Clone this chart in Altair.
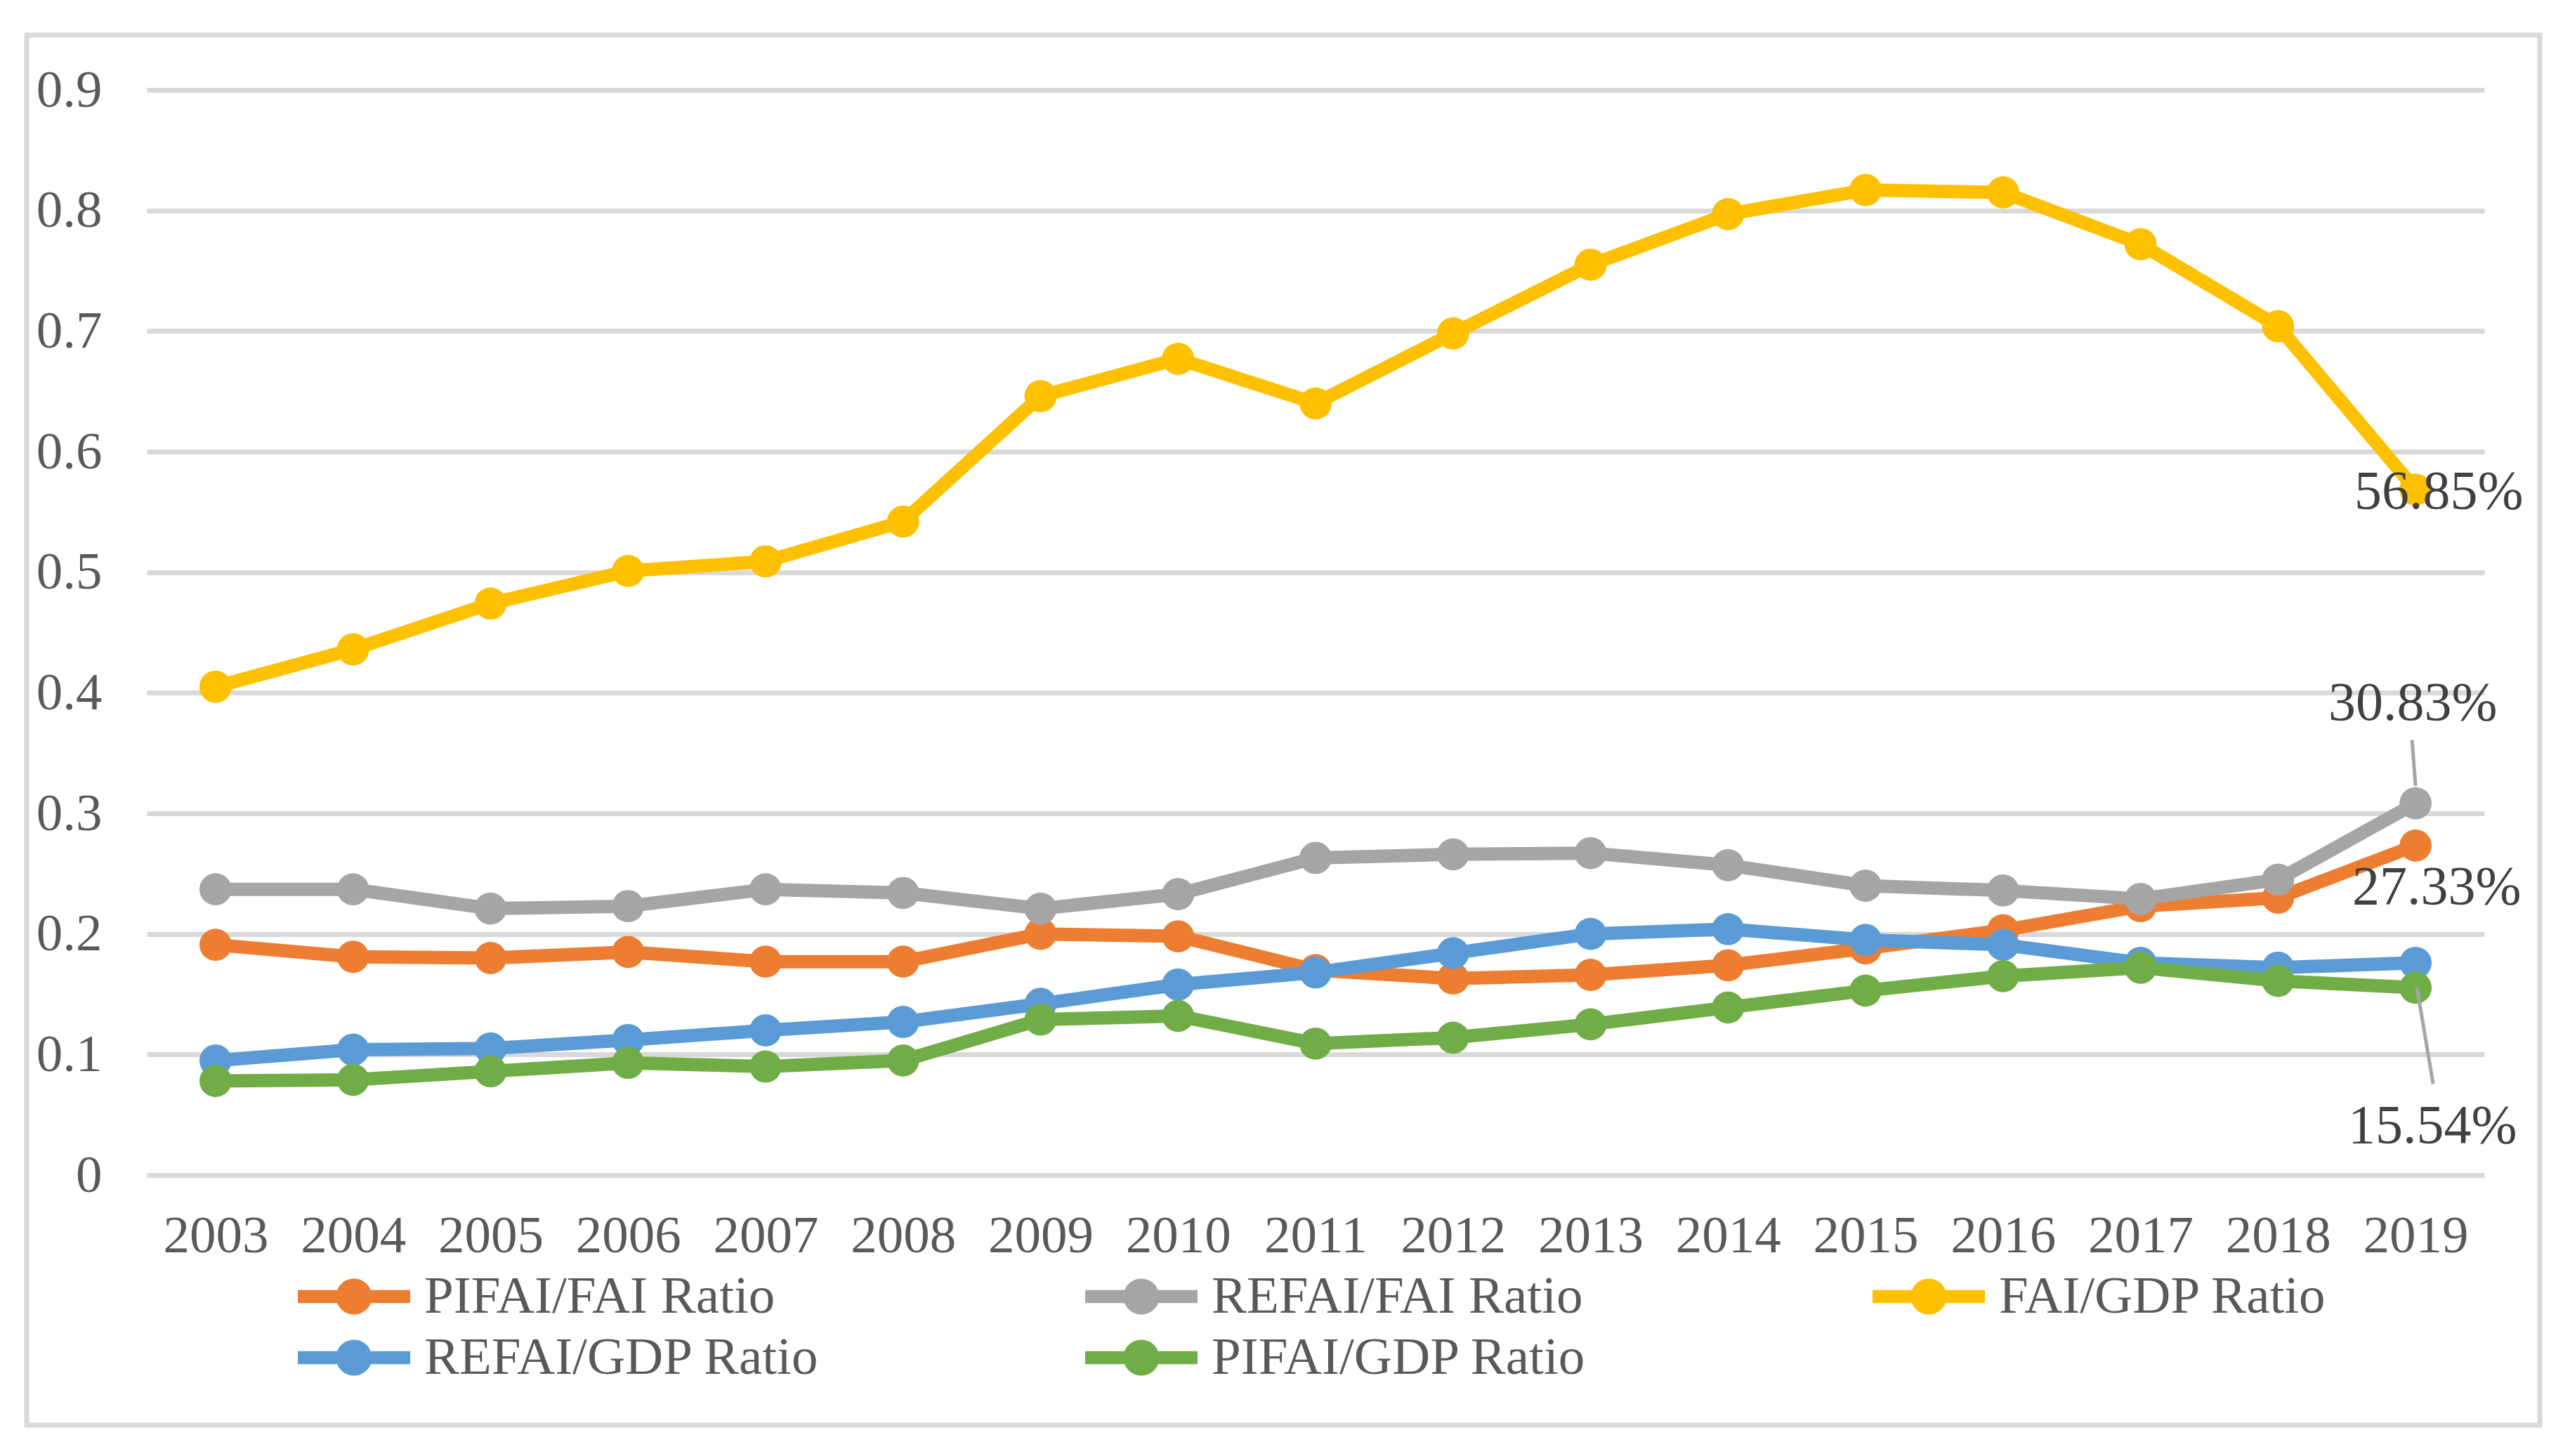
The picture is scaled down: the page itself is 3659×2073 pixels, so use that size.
import altair as alt
import pandas as pd

years = [str(y) for y in range(2003, 2020)]

series_names = ["PIFAI/FAI Ratio", "REFAI/FAI Ratio", "FAI/GDP Ratio",
                "REFAI/GDP Ratio", "PIFAI/GDP Ratio"]
colors = ["#ED7D31", "#A5A5A5", "#FFC000", "#5B9BD5", "#70AD47"]

pifai_fai = [0.191, 0.181, 0.180, 0.185, 0.177, 0.177, 0.200, 0.198, 0.170,
             0.163, 0.166, 0.174, 0.188, 0.203, 0.223, 0.230, 0.2733]
refai_fai = [0.237, 0.237, 0.221, 0.223, 0.237, 0.234, 0.221, 0.233, 0.263,
             0.266, 0.267, 0.257, 0.240, 0.236, 0.229, 0.245, 0.3083]
fai_gdp = [0.405, 0.436, 0.474, 0.501, 0.509, 0.542, 0.646, 0.677, 0.640,
           0.698, 0.755, 0.797, 0.817, 0.815, 0.772, 0.704, 0.5685]
refai_gdp = [0.095, 0.104, 0.105, 0.112, 0.120, 0.127, 0.142, 0.158, 0.168,
             0.184, 0.200, 0.204, 0.195, 0.191, 0.176, 0.172, 0.176]
pifai_gdp = [0.078, 0.079, 0.086, 0.093, 0.090, 0.095, 0.129, 0.132, 0.109,
             0.114, 0.125, 0.139, 0.153, 0.165, 0.172, 0.161, 0.1554]

y_ticks = [0, 0.1, 0.2, 0.3, 0.4, 0.5, 0.6, 0.7, 0.8, 0.9]

# data labels shown at the last point: series, dx, dy
label_series = ["FAI/GDP Ratio", "REFAI/FAI Ratio", "PIFAI/FAI Ratio", "PIFAI/GDP Ratio"]
label_dx = [33, -4, 30, 24]
label_dy = [4, -142, 60, 198]

rows = []
for name, vals in zip(series_names, [pifai_fai, refai_fai, fai_gdp, refai_gdp, pifai_gdp]):
    for yr, v in zip(years, vals):
        rows.append({"year": yr, "series": name, "value": v})
df = pd.DataFrame(rows)

FONT = "Liberation Serif"
W, H = 3328, 1545

x_enc = alt.X("year:O", title=None,
              scale=alt.Scale(type="point", padding=0.5, domain=years),
              axis=alt.Axis(labelFont=FONT, labelFontSize=75, labelColor="#595959",
                            labelAngle=0, labelPadding=86, labelBaseline="middle",
                            ticks=False, domain=False, grid=False))
y_enc = alt.Y("value:Q", title=None,
              scale=alt.Scale(domain=[0, 0.9], nice=False, zero=True),
              axis=alt.Axis(values=y_ticks, format=".1~f", labelFont=FONT,
                            labelFontSize=75, labelColor="#595959", labelPadding=64,
                            ticks=False, domain=False, grid=True,
                            gridColor="#D9D9D9", gridWidth=7))

sym_path = ("M-2,-0.23L2,-0.23L2,0.23L-2,0.23Z "
            "M0,-0.64A0.64,0.64 0 1,1 0,0.64A0.64,0.64 0 1,1 0,-0.64Z")

legend = alt.Legend(title=None, orient="none", legendX=255, legendY=1678,
                    direction="horizontal", columns=3, gridAlign="all",
                    columnPadding=377, rowPadding=9, symbolType=sym_path,
                    symbolSize=6400, symbolStrokeWidth=0, symbolOpacity=1,
                    labelFont=FONT, labelFontSize=75, labelColor="#595959",
                    labelLimit=3000, labelOffset=60, padding=0)

color_scale = alt.Scale(domain=series_names, range=colors)
color_enc = alt.Color("series:N", scale=color_scale, legend=legend)

frame = alt.Chart(pd.DataFrame({"f": [0]})).mark_rect(
    fillOpacity=0, stroke="#D9D9D9", strokeWidth=7
).encode(x=alt.value(-171), x2=alt.value(3407), y=alt.value(-78), y2=alt.value(1901))

layers = [frame]
for name in series_names:
    base = alt.Chart(df).transform_filter(alt.datum.series == name)
    line = base.mark_line(strokeWidth=19, strokeJoin="round", strokeCap="butt").encode(
        x=x_enc, y=y_enc, color=color_enc)
    pts = base.mark_point(filled=True, size=2100, opacity=1, strokeWidth=0).encode(
        x=x_enc, y=y_enc, color=color_enc)
    layers += [line, pts]

# leader lines
lead = pd.DataFrame({"year": ["2019"], "value": [0.3083]})
lead_gray = alt.Chart(lead).mark_rule(color="#A5A5A5", strokeWidth=5,
                                      xOffset=0, yOffset=-25, x2Offset=-5, y2Offset=-90).encode(
    x=x_enc, x2="year:O", y=y_enc, y2="value:Q")
lead2 = pd.DataFrame({"year": ["2019"], "value": [0.1554]})
lead_green = alt.Chart(lead2).mark_rule(color="#A5A5A5", strokeWidth=5,
                                        xOffset=2, yOffset=0, x2Offset=25, y2Offset=137).encode(
    x=x_enc, x2="year:O", y=y_enc, y2="value:Q")
layers += [lead_gray, lead_green]

for name, dx, dy in zip(label_series, label_dx, label_dy):
    t = alt.Chart(df).transform_filter(
        (alt.datum.series == name) & (alt.datum.year == "2019")
    ).mark_text(font=FONT, fontSize=78, color="#404040", dx=dx, dy=dy,
                baseline="middle", align="center").encode(
        x=x_enc, y=y_enc, text=alt.Text("value:Q", format=".2%"))
    layers.append(t)

chart = alt.layer(*layers).properties(
    width=W, height=H,
    autosize=alt.AutoSizeParams(type="none"),
    padding={"left": 201, "top": 120, "right": 114, "bottom": 385},
    background="white",
).configure_view(strokeWidth=0)

chart.save("out.html", embed_options={"renderer": "svg", "actions": False})
